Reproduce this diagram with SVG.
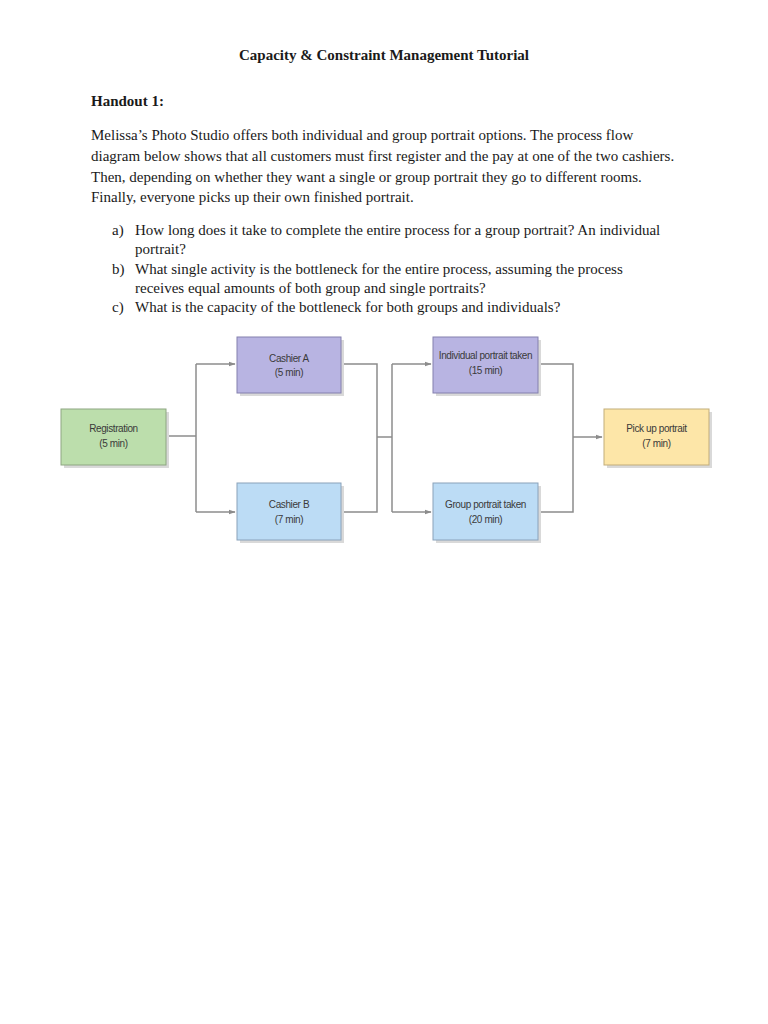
<svg xmlns="http://www.w3.org/2000/svg" width="768" height="1024" viewBox="0 0 768 1024">
<style>
.t{font-family:"Liberation Serif","Times New Roman",serif;font-size:15px;fill:#1a1a1a}
.b{font-weight:bold}
.box{stroke-width:1}
.sh{fill:#d9d9d9}
.lbl{font-family:"Liberation Sans",Arial,sans-serif;font-size:10px;fill:#3a3a3a;text-anchor:middle;letter-spacing:-0.4px}
.c{fill:none;stroke:#8c8c8c;stroke-width:1.5}
</style>
<defs>
<marker id="ah" viewBox="0 0 10 10" refX="9" refY="5" markerWidth="7" markerHeight="7" orient="auto" markerUnits="userSpaceOnUse">
<path d="M0,1.5 L10,5 L0,8.5 z" fill="#8c8c8c"/>
</marker>
</defs>
<rect width="768" height="1024" fill="#ffffff"/>
<text class="t b" x="384" y="60" text-anchor="middle">Capacity &amp; Constraint Management Tutorial</text>
<text class="t b" x="91" y="106">Handout 1:</text>
<text class="t" x="91" y="140">Melissa’s Photo Studio offers both individual and group portrait options. The process flow</text>
<text class="t" x="91" y="161">diagram below shows that all customers must first register and the pay at one of the two cashiers.</text>
<text class="t" x="91" y="182">Then, depending on whether they want a single or group portrait they go to different rooms.</text>
<text class="t" x="91" y="202">Finally, everyone picks up their own finished portrait.</text>
<text class="t" x="112" y="235">a)</text>
<text class="t" x="135" y="235">How long does it take to complete the entire process for a group portrait? An individual</text>
<text class="t" x="135" y="254">portrait?</text>
<text class="t" x="112" y="274">b)</text>
<text class="t" x="135" y="274">What single activity is the bottleneck for the entire process, assuming the process</text>
<text class="t" x="135" y="293">receives equal amounts of both group and single portraits?</text>
<text class="t" x="112" y="312">c)</text>
<text class="t" x="135" y="312">What is the capacity of the bottleneck for both groups and individuals?</text>

<g id="connectors">
<path class="c" d="M166,436 H196"/>
<path class="c" d="M196,364 V512"/>
<path class="c" d="M196,364 H235" marker-end="url(#ah)"/>
<path class="c" d="M196,512 H235" marker-end="url(#ah)"/>
<path class="c" d="M341,364 H377 V512 H341"/>
<path class="c" d="M377,437 H392"/>
<path class="c" d="M392,364 V512"/>
<path class="c" d="M392,364 H431" marker-end="url(#ah)"/>
<path class="c" d="M392,512 H431" marker-end="url(#ah)"/>
<path class="c" d="M538,364 H573 V512 H538"/>
<path class="c" d="M573,437 H602" marker-end="url(#ah)"/>
</g>

<g id="registration">
<rect class="sh" x="64" y="412" width="105" height="56"/>
<rect class="box" x="61" y="409" width="105" height="56" fill="#bcdeac" stroke="#8ea682"/>
<text class="lbl" x="113.5" y="432">Registration</text>
<text class="lbl" x="113.5" y="447">(5 min)</text>
</g>
<g id="cashierA">
<rect class="sh" x="240" y="340" width="104" height="56"/>
<rect class="box" x="237" y="337" width="104" height="56" fill="#b8b4e2" stroke="#8480ae"/>
<text class="lbl" x="289" y="362">Cashier A</text>
<text class="lbl" x="289" y="376">(5 min)</text>
</g>
<g id="cashierB">
<rect class="sh" x="240" y="486" width="104" height="57"/>
<rect class="box" x="237" y="483" width="104" height="57" fill="#bcdcf5" stroke="#8aa2ba"/>
<text class="lbl" x="289" y="508">Cashier B</text>
<text class="lbl" x="289" y="523">(7 min)</text>
</g>
<g id="individual">
<rect class="sh" x="436" y="340" width="105" height="56"/>
<rect class="box" x="433" y="337" width="105" height="56" fill="#b8b4e2" stroke="#8480ae"/>
<text class="lbl" x="485.5" y="359">Individual portrait taken</text>
<text class="lbl" x="485.5" y="374">(15 min)</text>
</g>
<g id="group">
<rect class="sh" x="436" y="486" width="105" height="57"/>
<rect class="box" x="433" y="483" width="105" height="57" fill="#bcdcf5" stroke="#8aa2ba"/>
<text class="lbl" x="485.5" y="508">Group portrait taken</text>
<text class="lbl" x="485.5" y="523">(20 min)</text>
</g>
<g id="pickup">
<rect class="sh" x="607" y="412" width="105" height="56"/>
<rect class="box" x="604" y="409" width="105" height="56" fill="#fde6a8" stroke="#c2ad7a"/>
<text class="lbl" x="656.5" y="432">Pick up portrait</text>
<text class="lbl" x="656.5" y="447">(7 min)</text>
</g>
</svg>
